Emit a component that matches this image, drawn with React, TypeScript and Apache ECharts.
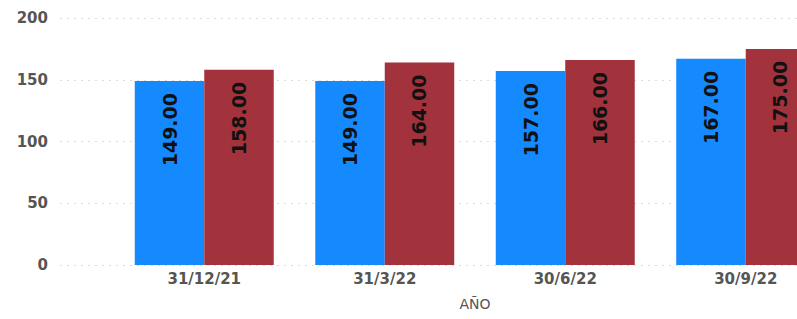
import React, { useEffect, useRef } from "react";
import * as echarts from "echarts";

const categories = ["31/12/21", "31/3/22", "30/6/22", "30/9/22"];
const seriesA = [149, 149, 157, 167];
const seriesB = [158, 164, 166, 175];
const yTicks = [0, 50, 100, 150, 200];

export default function App() {
  const ref = useRef<HTMLDivElement>(null);
  useEffect(() => {
    if (!ref.current) return;
    const chart = echarts.init(ref.current, null, { renderer: "svg" });
    const font = "'DejaVu Sans', Verdana, sans-serif";
    const label = {
      show: true,
      position: "insideTop",
      rotate: 90,
      align: "right",
      verticalAlign: "middle",
      distance: 12,
      color: "#111",
      fontSize: 19,
      fontWeight: "bold",
      fontFamily: font,
      formatter: (p: any) => Number(p.value).toFixed(2),
    };
    chart.setOption({
      animation: false,
      backgroundColor: "#ffffff",
      grid: [
        { left: 60, right: 0, top: 18, bottom: 54 },
        { left: 114, width: 722, top: 18, bottom: 54 },
      ],
      xAxis: [
        { type: "value", gridIndex: 0, show: false, min: 0, max: 1 },
        {
          type: "category",
          gridIndex: 1,
          data: categories,
          axisLine: { show: false },
          axisTick: { show: false },
          axisLabel: {
            color: "#555",
            fontSize: 15,
            fontWeight: "bold",
            fontFamily: font,
            margin: 6,
          },
          name: "AÑO",
          nameLocation: "middle",
          nameGap: 32,
          nameTextStyle: { color: "#555", fontSize: 14, fontFamily: font },
        },
      ],
      yAxis: [
        {
          type: "value",
          gridIndex: 0,
          min: yTicks[0],
          max: yTicks[yTicks.length - 1],
          interval: 50,
          axisLine: { show: false },
          axisTick: { show: false },
          axisLabel: {
            color: "#555",
            fontSize: 15,
            fontWeight: "bold",
            fontFamily: font,
            margin: 12,
          },
          splitLine: {
            show: true,
            lineStyle: { color: "#dcdcdc", type: [2, 5], width: 1 },
          },
        },
        {
          type: "value",
          gridIndex: 1,
          min: 0,
          max: 200,
          show: false,
          splitLine: { show: false },
        },
      ],
      series: [
        {
          type: "bar",
          xAxisIndex: 1,
          yAxisIndex: 1,
          data: seriesA,
          barGap: "0%",
          barCategoryGap: "23%",
          itemStyle: { color: "#158AFF" },
          label,
        },
        {
          type: "bar",
          xAxisIndex: 1,
          yAxisIndex: 1,
          data: seriesB,
          barGap: "0%",
          barCategoryGap: "23%",
          itemStyle: { color: "#A2333D" },
          label,
        },
      ],
    });
    return () => chart.dispose();
  }, []);
  return (
    <div
      style={{
        position: "fixed",
        left: 0,
        top: 0,
        width: 797,
        height: 319,
        overflow: "hidden",
        background: "#fff",
      }}
    >
      <div ref={ref} style={{ width: 840, height: 319 }} />
    </div>
  );
}
